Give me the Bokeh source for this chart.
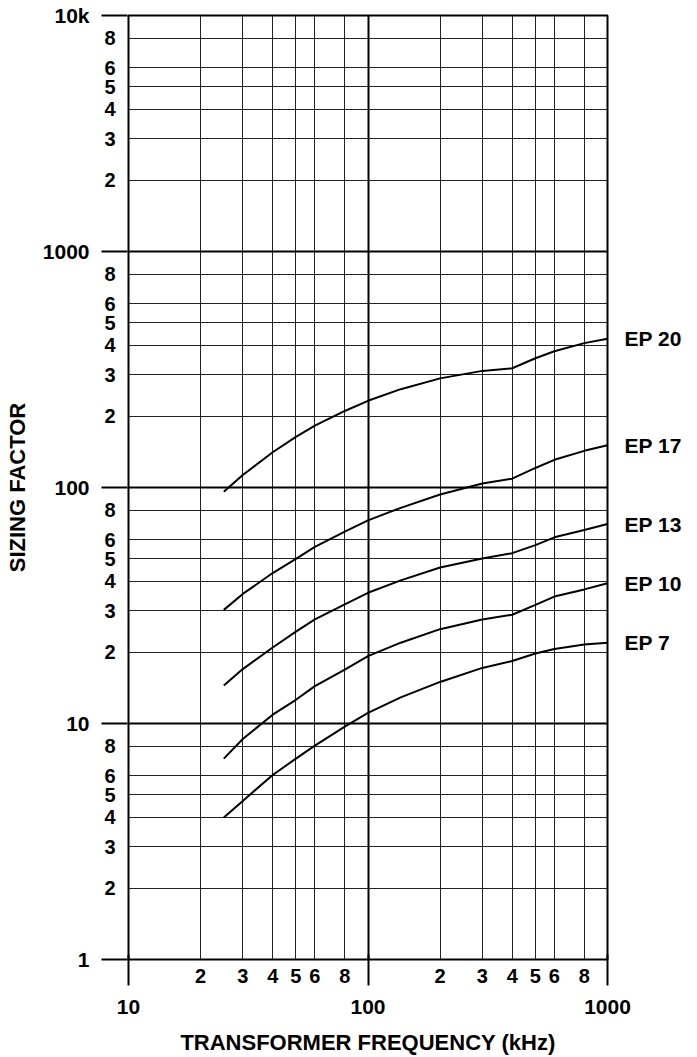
from bokeh.plotting import figure
from bokeh.models import LogAxis, FixedTicker, Range1d
from bokeh.embed import file_html
from bokeh.resources import INLINE

# ---------------- data ----------------
freq_khz = [25, 30, 40, 50, 60, 80, 100, 137, 200, 300, 400, 500, 600, 800, 1000]
ep20 = [96, 113, 141, 164, 183, 211, 233, 261, 290, 312, 320, 353, 378, 409, 427]
ep17 = [30.3, 35.4, 43.4, 49.8, 56, 65, 72.6, 82, 93.4, 104, 109, 121, 131, 143, 151]
ep13 = [14.5, 17, 21, 24.5, 27.6, 32, 35.8, 40.4, 45.8, 50, 52.7, 57, 61.5, 66, 70]
ep10 = [7.1, 8.6, 10.9, 12.6, 14.4, 16.9, 19.3, 22, 25.1, 27.6, 28.9, 31.8, 34.5, 37, 39.3]
ep7 = [4.0, 4.7, 6.05, 7.1, 8.06, 9.7, 11.1, 12.9, 15, 17.2, 18.4, 19.8, 20.7, 21.6, 22]
series = [ep20, ep17, ep13, ep10, ep7]
series_names = ["EP 20", "EP 17", "EP 13", "EP 10", "EP 7"]

x_decades = [10, 100, 1000]
x_decade_labels = ["10", "100", "1000"]
x_minor = [20, 30, 40, 50, 60, 80, 200, 300, 400, 500, 600, 800]
x_minor_labels = ["2", "3", "4", "5", "6", "8", "2", "3", "4", "5", "6", "8"]

y_decades = [1, 10, 100, 1000, 10000]
y_decade_labels = ["1", "10", "100", "1000", "10k"]
y_minor = [2, 3, 4, 5, 6, 8,
           20, 30, 40, 50, 60, 80,
           200, 300, 400, 500, 600, 800,
           2000, 3000, 4000, 5000, 6000, 8000]
y_minor_labels = ["2", "3", "4", "5", "6", "8"] * 4

x_title = "TRANSFORMER FREQUENCY (kHz)"
y_title = "SIZING FACTOR"

FONT = "Liberation Sans"

p = figure(width=689, height=1057,
           x_axis_type="log", y_axis_type="log",
           x_range=Range1d(10, 1000), y_range=Range1d(1, 10000),
           output_backend="svg", toolbar_location=None,
           min_border_left=128, min_border_right=82,
           min_border_top=15, min_border_bottom=97)
p.background_fill_color = "white"
p.border_fill_color = "white"
p.outline_line_color = "black"
p.outline_line_width = 2

# grids
p.xgrid.ticker = FixedTicker(ticks=x_decades, minor_ticks=x_minor)
p.ygrid.ticker = FixedTicker(ticks=y_decades, minor_ticks=y_minor)
for g in (p.xgrid, p.ygrid):
    g.grid_line_color = "black"
    g.grid_line_width = 2
    g.minor_grid_line_color = "#222222"
    g.minor_grid_line_width = 1


def no_marks(ax):
    ax.major_tick_out = 0
    ax.major_tick_in = 0
    ax.minor_tick_out = 0
    ax.minor_tick_in = 0
    ax.major_tick_line_color = None
    ax.minor_tick_line_color = None
    ax.axis_line_color = None


def label_style(ax, size, standoff):
    ax.major_label_standoff = standoff
    ax.major_label_text_font = FONT
    ax.major_label_text_font_style = "bold"
    ax.major_label_text_font_size = size
    ax.major_label_text_color = "black"


def style_inner(ax, ticks, labels, standoff):
    ax.ticker = FixedTicker(ticks=ticks, minor_ticks=[])
    ax.major_label_overrides = {t: l for t, l in zip(ticks, labels)}
    no_marks(ax)
    label_style(ax, "20px", standoff)


def make_outer(ticks, labels, title, standoff, title_standoff, tick_in):
    ax = LogAxis(ticker=FixedTicker(ticks=ticks, minor_ticks=[]))
    ax.major_label_overrides = {t: l for t, l in zip(ticks, labels)}
    no_marks(ax)
    ax.major_tick_in = tick_in
    ax.major_tick_line_color = "black"
    ax.major_tick_line_width = 2
    label_style(ax, "21px", standoff)
    ax.axis_label = title
    ax.axis_label_standoff = title_standoff
    ax.axis_label_text_font = FONT
    ax.axis_label_text_font_style = "bold"
    ax.axis_label_text_font_size = "22px"
    ax.axis_label_text_color = "black"
    return ax


style_inner(p.xaxis[0], x_minor, x_minor_labels, 9)
style_inner(p.yaxis[0], y_minor, y_minor_labels, 13)

p.add_layout(make_outer(x_decades, x_decade_labels, x_title, 14, 13, 31), "below")
p.add_layout(make_outer(y_decades, y_decade_labels, y_title, 12, 10, 26), "left")

for s in series:
    p.line(freq_khz, s, line_color="black", line_width=2)

# curve names placed at each curve's end value, on a right-hand axis
end_values = [s[-1] for s in series]
name_axis = LogAxis(ticker=FixedTicker(ticks=end_values, minor_ticks=[]))
name_axis.major_label_overrides = {v: n for v, n in zip(end_values, series_names)}
no_marks(name_axis)
label_style(name_axis, "21px", 17)
name_axis.major_label_text_align = "left"
p.add_layout(name_axis, "right")

open("out.html", "w").write(file_html(p, INLINE))
